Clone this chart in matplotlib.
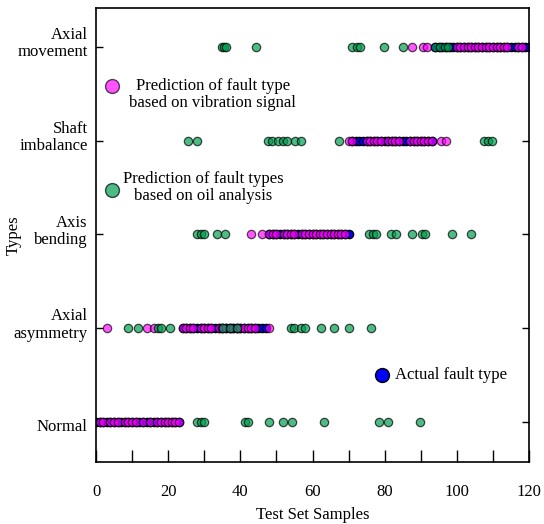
import numpy as np
import matplotlib
matplotlib.use("Agg")
from matplotlib import pyplot as plt

plt.rcParams['font.family'] = ['Liberation Serif', 'DejaVu Serif']
plt.rcParams['font.size'] = 12

# fault classes, bottom to top
types = ['Normal', 'Axial\nasymmetry', 'Axis\nbending', 'Shaft\nimbalance', 'Axial\nmovement']

# actual fault type of each test sample (contiguous blocks)
actual_normal = list(range(0, 24))
actual_asym = list(range(24, 48))
actual_bend = list(range(48, 71))
actual_imbal = list(range(71, 94))
actual_move = list(range(94, 121))

# vibration-signal predictions, sample positions per predicted class
vib_normal = [1, 2, 4, 5, 6, 8, 9, 10, 11, 13, 15, 17, 18, 19, 20, 21, 22, 23]
vib_asym = [3, 14, 16] + [24, 25, 26, 27, 29, 30, 31, 32, 34, 35, 36, 37, 38,
                          39, 40, 41, 42, 43, 44] + [48]
vib_bend = [43, 46] + [48, 49, 50, 52, 53, 54, 55, 57, 58, 59, 60, 61, 62, 63,
                       64, 65, 66, 67, 68, 69]
vib_imbal = [70] + [71, 75, 76, 77, 78, 79, 81, 82, 83, 84, 87, 88, 89, 90,
                    91, 92, 93] + [95.5, 97]
vib_move = [87.7, 90.5, 91.7] + [100, 101, 102, 103, 104, 105, 106, 107, 108,
                                 109, 110, 111, 112, 113, 114, 117, 118]

# oil-analysis predictions
oil_normal = [28, 29, 30, 41.3, 42, 48, 51.7, 54.4, 63.3, 78.3, 81, 89.8]
oil_asym = [8.8, 11.5, 17.3, 18, 20.5, 35.3, 37.2, 39, 54, 54.8, 56.8, 58,
            62.3, 66, 70, 76.2]
oil_bend = [28.1, 29.1, 30, 33.5, 35.8, 75.6, 76.7, 77.5, 81.8, 83.1, 87.7,
            90.4, 91.2, 98.6, 103.8]
oil_imbal = [25.4, 27.9, 47.8, 48.7, 50.5, 51.7, 52.8, 55.2, 56.8, 67.4,
             107.6, 108.7, 109.7]
oil_move = [35, 35.5, 36, 44.3, 71, 72.3, 73.2, 79.7, 85.2, 94, 95.3, 96.7, 97.6]

actual = [actual_normal, actual_asym, actual_bend, actual_imbal, actual_move]
vib = [vib_normal, vib_asym, vib_bend, vib_imbal, vib_move]
oil = [oil_normal, oil_asym, oil_bend, oil_imbal, oil_move]

BLUE = '#0000FF'
MAGENTA = '#FF00FF'
GREEN = '#00A050'


def flatten(groups):
   xs, ys = [], []
   for k, g in enumerate(groups):
      xs += list(g)
      ys += [k + 1] * len(g)
   return np.array(xs, dtype=float), np.array(ys, dtype=float)


fig = plt.figure(figsize=(5.44, 5.24), dpi=100)
ax = fig.add_axes([0.1765, 0.1183, 0.7959, 0.8664])

msize = 36
x, y = flatten(actual)
ax.scatter(x, y, s=msize, c=BLUE, edgecolors='black', linewidths=0.9, zorder=2)
x, y = flatten(vib)
ax.scatter(x, y, s=msize, c=MAGENTA, alpha=0.67, edgecolors='black', linewidths=0.9, zorder=3)
x, y = flatten(oil)
ax.scatter(x, y, s=msize, c=GREEN, alpha=0.7, edgecolors='black', linewidths=0.9, zorder=4)

# in-plot legend entries
ax.scatter([4.4], [4.585], s=100, c=MAGENTA, alpha=0.67, edgecolors='black', linewidths=1.0)
ax.text(32.4, 4.49, 'Prediction of fault type\nbased on vibration signal',
        ha='center', va='center', linespacing=1.1)
ax.scatter([4.4], [3.48], s=100, c=GREEN, alpha=0.7, edgecolors='black', linewidths=1.0)
ax.text(29.7, 3.5, 'Prediction of fault types\nbased on oil analysis',
        ha='center', va='center', linespacing=1.1)
ax.scatter([79.3], [1.5], s=100, c=BLUE, edgecolors='black', linewidths=1.0)
ax.text(83.0, 1.5, 'Actual fault type', ha='left', va='center')

ax.set_xlim(0, 120)
ax.set_ylim(0.573, 5.416)
ax.set_xticks(np.arange(0, 121, 20))
ax.set_xticks(np.arange(0, 121, 10), minor=True)
ax.set_yticks([1, 2, 3, 4, 5])
ax.set_yticklabels([])
# class names sit with the last line's baseline a little below the tick
for k, name in enumerate(types):
   ax.text(-0.019, k + 1 - 0.1, name, transform=ax.get_yaxis_transform(),
           ha='right', va='baseline', multialignment='right', linespacing=1.1)
ax.tick_params(axis='x', which='both', direction='in', length=9, width=1, pad=16)
ax.tick_params(axis='y', direction='in', length=5, width=1, right=True)
for sp in ax.spines.values():
   sp.set_linewidth(1.2)

ax.set_xlabel('Test Set Samples', labelpad=5)
ax.set_ylabel('Types')
ax.yaxis.set_label_coords(-0.172, 0.5)

fig.savefig('out.png', dpi=100)
